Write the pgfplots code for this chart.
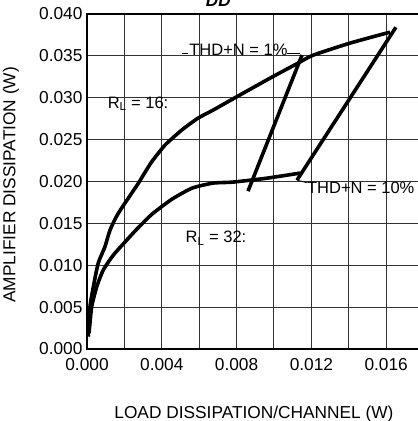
\documentclass[border=0pt]{standalone}
\usepackage{pgfplots}
\pgfplotsset{compat=1.18}
\usepackage{fontspec}
\setmainfont{Liberation Sans}
\begin{document}
\begin{tikzpicture}[x=1pt,y=1pt]
\begin{axis}[
  at={(0,0)}, anchor=south west,
  scale only axis,
  width=336.6pt, height=335pt,
  xmin=0, xmax=0.018, ymin=0, ymax=0.040,
  xtick={0,0.004,0.008,0.012,0.016},
  minor xtick={0.002,0.006,0.010,0.014,0.018},
  ytick={0,0.005,0.010,0.015,0.020,0.025,0.030,0.035,0.040},
  grid=both,
  major grid style={line width=1pt, draw=black!80},
  minor grid style={line width=1pt, draw=black!80},
  axis line style={line width=1.4pt},
  major tick length=0pt, minor tick length=0pt,
  scaled ticks=false,
  /pgf/number format/.cd, fixed, fixed zerofill, precision=3, assume math mode=true,
  /pgfplots/.cd,
  tick label style={font=\fontsize{17.3}{19}\selectfont},
  xticklabel style={yshift=-6pt},
  yticklabel style={xshift=-1pt},
  label style={font=\fontsize{17.3}{19}\selectfont},
  xlabel={LOAD DISSIPATION/CHANNEL (W)},
  ylabel={AMPLIFIER DISSIPATION (W)},
  xlabel style={at={(axis description cs:0.496,-0.194)}, anchor=center},
  ylabel style={at={(axis description cs:-0.226,0.49)}, anchor=center, rotate=0},
  clip=false,
]
% R_L = 16
\addplot[black, line width=3.6pt, smooth, tension=0.35] coordinates {
(0.00007,0.00147) (0.00016,0.00505) (0.00034,0.00743) (0.0006,0.01026)
(0.00096,0.01221) (0.00123,0.0142) (0.00167,0.01619) (0.00274,0.01977)
(0.00301,0.02076) (0.00346,0.02235) (0.00417,0.02434) (0.00506,0.02613)
(0.00594,0.02757) (0.00674,0.02852) (0.00797,0.03007) (0.00979,0.03234)
(0.01128,0.03413) (0.01209,0.03508) (0.01406,0.03652) (0.0162,0.03783)
};
% R_L = 32
\addplot[black, line width=3.6pt, smooth, tension=0.35] coordinates {
(0.00011,0.00191) (0.00025,0.00505) (0.00052,0.00743) (0.00087,0.00943)
(0.00141,0.01122) (0.00221,0.01321) (0.00267,0.01432) (0.00348,0.01611)
(0.00455,0.0179) (0.00562,0.01921) (0.00674,0.01981)
(0.00781,0.01993) (0.00963,0.0204) (0.01139,0.0210)
};
% THD+N = 1%
\addplot[black, line width=3.6pt] coordinates {(0.00861,0.01885) (0.0115,0.0351)};
% THD+N = 10%
\addplot[black, line width=3.6pt] coordinates {(0.01123,0.02017) (0.01652,0.03842)};
% leaders
\draw[line width=0.8pt] (axis cs:0.00506,0.03526) -- (axis cs:0.0054,0.03526);
\draw[line width=0.8pt] (axis cs:0.0107,0.03526) -- (axis cs:0.01139,0.03526);
\draw[line width=0.8pt] (axis cs:0.01123,0.02017) -- (axis cs:0.01176,0.01985);
\node[font=\fontsize{16.5}{18}\selectfont] at (axis cs:0.0081,0.0357) {THD+N = 1\%};
\node[font=\fontsize{16.5}{18}\selectfont, anchor=west, inner sep=0pt] at (axis cs:0.01176,0.0192) {THD+N = 10\%};
\node[font=\fontsize{16.5}{18}\selectfont] at (axis cs:0.00273,0.0293) {R\textsubscript{L} = 16:};
\node[font=\fontsize{16.5}{18}\selectfont] at (axis cs:0.0069,0.0132) {R\textsubscript{L} = 32:};
\node[font=\fontsize{17}{18}\selectfont\bfseries\itshape] at (rel axis cs:0.39,1.040) {DD};
\end{axis}
\pgfresetboundingbox
\path[use as bounding box] (-87pt,-72pt) rectangle (331pt,349pt);
\end{tikzpicture}
\end{document}
